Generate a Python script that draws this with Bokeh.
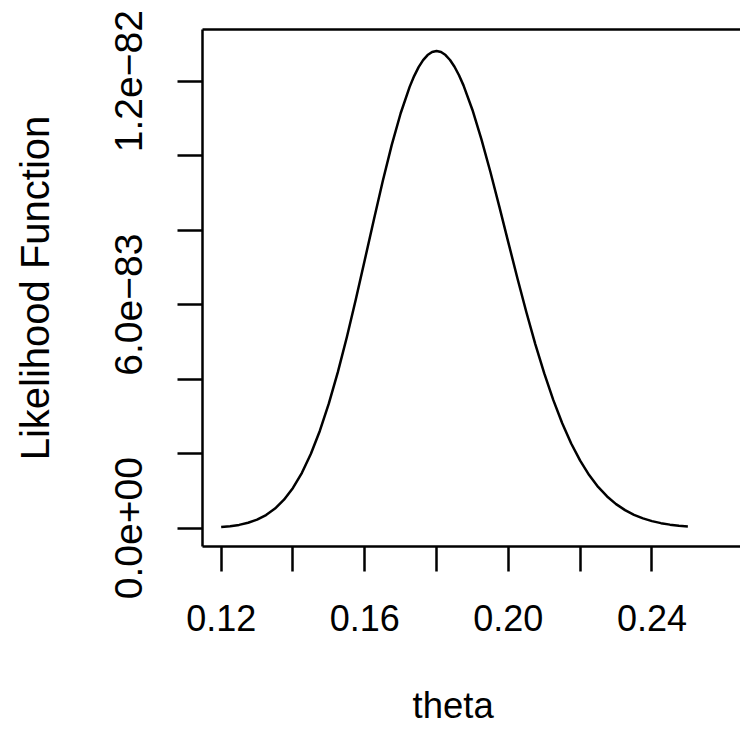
from bokeh.plotting import figure
from bokeh.models import LinearAxis, FixedTicker, CustomJSTickFormatter, Title
from bokeh.embed import file_html
from bokeh.resources import INLINE
import numpy as np

# theta values and likelihood values (in units of 1e-83)
theta = [0.1200, 0.1225, 0.1250, 0.1275, 0.1300, 0.1325, 0.1350, 0.1375, 0.1400, 0.1425,
         0.1450, 0.1475, 0.1500, 0.1525, 0.1550, 0.1575, 0.1600, 0.1625, 0.1650, 0.1675,
         0.1700, 0.1725, 0.17375, 0.1750, 0.17625, 0.1775, 0.17875, 0.1800, 0.18125, 0.1825,
         0.18375, 0.1850, 0.18625, 0.1875, 0.1900, 0.1925, 0.1950, 0.1975, 0.2000, 0.2025,
         0.2050, 0.2075, 0.2100, 0.2125, 0.2150, 0.2175, 0.2200, 0.2225, 0.2250, 0.2275,
         0.2300, 0.2325, 0.2350, 0.2375, 0.2400, 0.2425, 0.2450, 0.2475, 0.2500]
likelihood_e83 = [0.031, 0.054, 0.089, 0.146, 0.230, 0.354, 0.527, 0.765, 1.080, 1.488,
                  1.997, 2.617, 3.349, 4.190, 5.126, 6.139, 7.199, 8.269, 9.313, 10.283,
                  11.140, 11.848, 12.137, 12.377, 12.565, 12.701, 12.783, 12.810, 12.783, 12.702,
                  12.570, 12.389, 12.160, 11.888, 11.228, 10.440, 9.562, 8.625, 7.668, 6.718,
                  5.803, 4.943, 4.154, 3.444, 2.817, 2.275, 1.813, 1.427, 1.109, 0.852,
                  0.646, 0.485, 0.358, 0.263, 0.190, 0.136, 0.096, 0.068, 0.047]
likelihood = list(np.array(likelihood_e83) * 1e-83)

x_ticks = [0.12, 0.14, 0.16, 0.18, 0.20, 0.22, 0.24]
x_tick_labels = ["0.12", "", "0.16", "", "0.20", "", "0.24"]
y_ticks = [0.0, 2e-83, 4e-83, 6e-83, 8e-83, 1e-82, 1.2e-82]
y_tick_labels = ["0.0e+00", "", "", "6.0e\u221283", "", "", "1.2e\u221282"]

x_label = "theta"
y_label = "Likelihood Function"

FONT = "Liberation Sans"
LW = 2.5

p = figure(width=740, height=777,
           x_range=(0.1148, 0.26466), y_range=(-0.491e-83, 13.388e-83),
           output_backend="svg", toolbar_location=None,
           min_border_left=202, min_border_right=0,
           min_border_top=29, min_border_bottom=231,
           x_axis_location=None, y_axis_location=None)
p.grid.visible = False
p.outline_line_color = None
p.background_fill_color = "white"
p.border_fill_color = "white"

p.line(theta, likelihood, line_color="black", line_width=LW, line_join="round")

xfmt = CustomJSTickFormatter(args=dict(labels=x_tick_labels), code="return labels[index];")
yfmt = CustomJSTickFormatter(args=dict(labels=y_tick_labels), code="return labels[index];")

xaxis = LinearAxis(ticker=FixedTicker(ticks=x_ticks), formatter=xfmt)
xaxis.axis_line_width = LW
xaxis.major_tick_line_width = LW
xaxis.major_tick_out = 25
xaxis.major_tick_in = 0
xaxis.minor_tick_line_color = None
xaxis.major_label_text_font = FONT
xaxis.major_label_text_font_size = "36px"
xaxis.major_label_text_color = "black"
xaxis.major_label_standoff = 33
p.add_layout(xaxis, "below")

# x-axis title (the R plot region is centred a little left of the frame centre)
xtitle = Title(text=x_label, align="left", offset=210, standoff=99,
               text_font=FONT, text_font_size="36.5px", text_font_style="normal",
               text_color="black")
p.add_layout(xtitle, "below")

yaxis = LinearAxis(ticker=FixedTicker(ticks=y_ticks), formatter=yfmt,
                   axis_label=y_label)
yaxis.axis_line_width = LW
yaxis.major_tick_line_width = LW
yaxis.major_tick_out = 25
yaxis.major_tick_in = 0
yaxis.minor_tick_line_color = None
yaxis.major_label_orientation = "vertical"
yaxis.major_label_text_font = FONT
yaxis.major_label_text_font_size = "39px"
yaxis.major_label_text_color = "black"
yaxis.major_label_standoff = 35
yaxis.axis_label_text_font = FONT
yaxis.axis_label_text_font_size = "40px"
yaxis.axis_label_text_font_style = "normal"
yaxis.axis_label_text_color = "black"
yaxis.axis_label_standoff = 56
p.add_layout(yaxis, "left")

top = LinearAxis(ticker=FixedTicker(ticks=[]))
top.axis_line_width = LW
top.major_tick_out = 0
top.major_tick_in = 0
top.minor_tick_line_color = None
top.major_label_text_font_size = "0px"
p.add_layout(top, "above")

open("out.html", "w").write(file_html(p, INLINE))
